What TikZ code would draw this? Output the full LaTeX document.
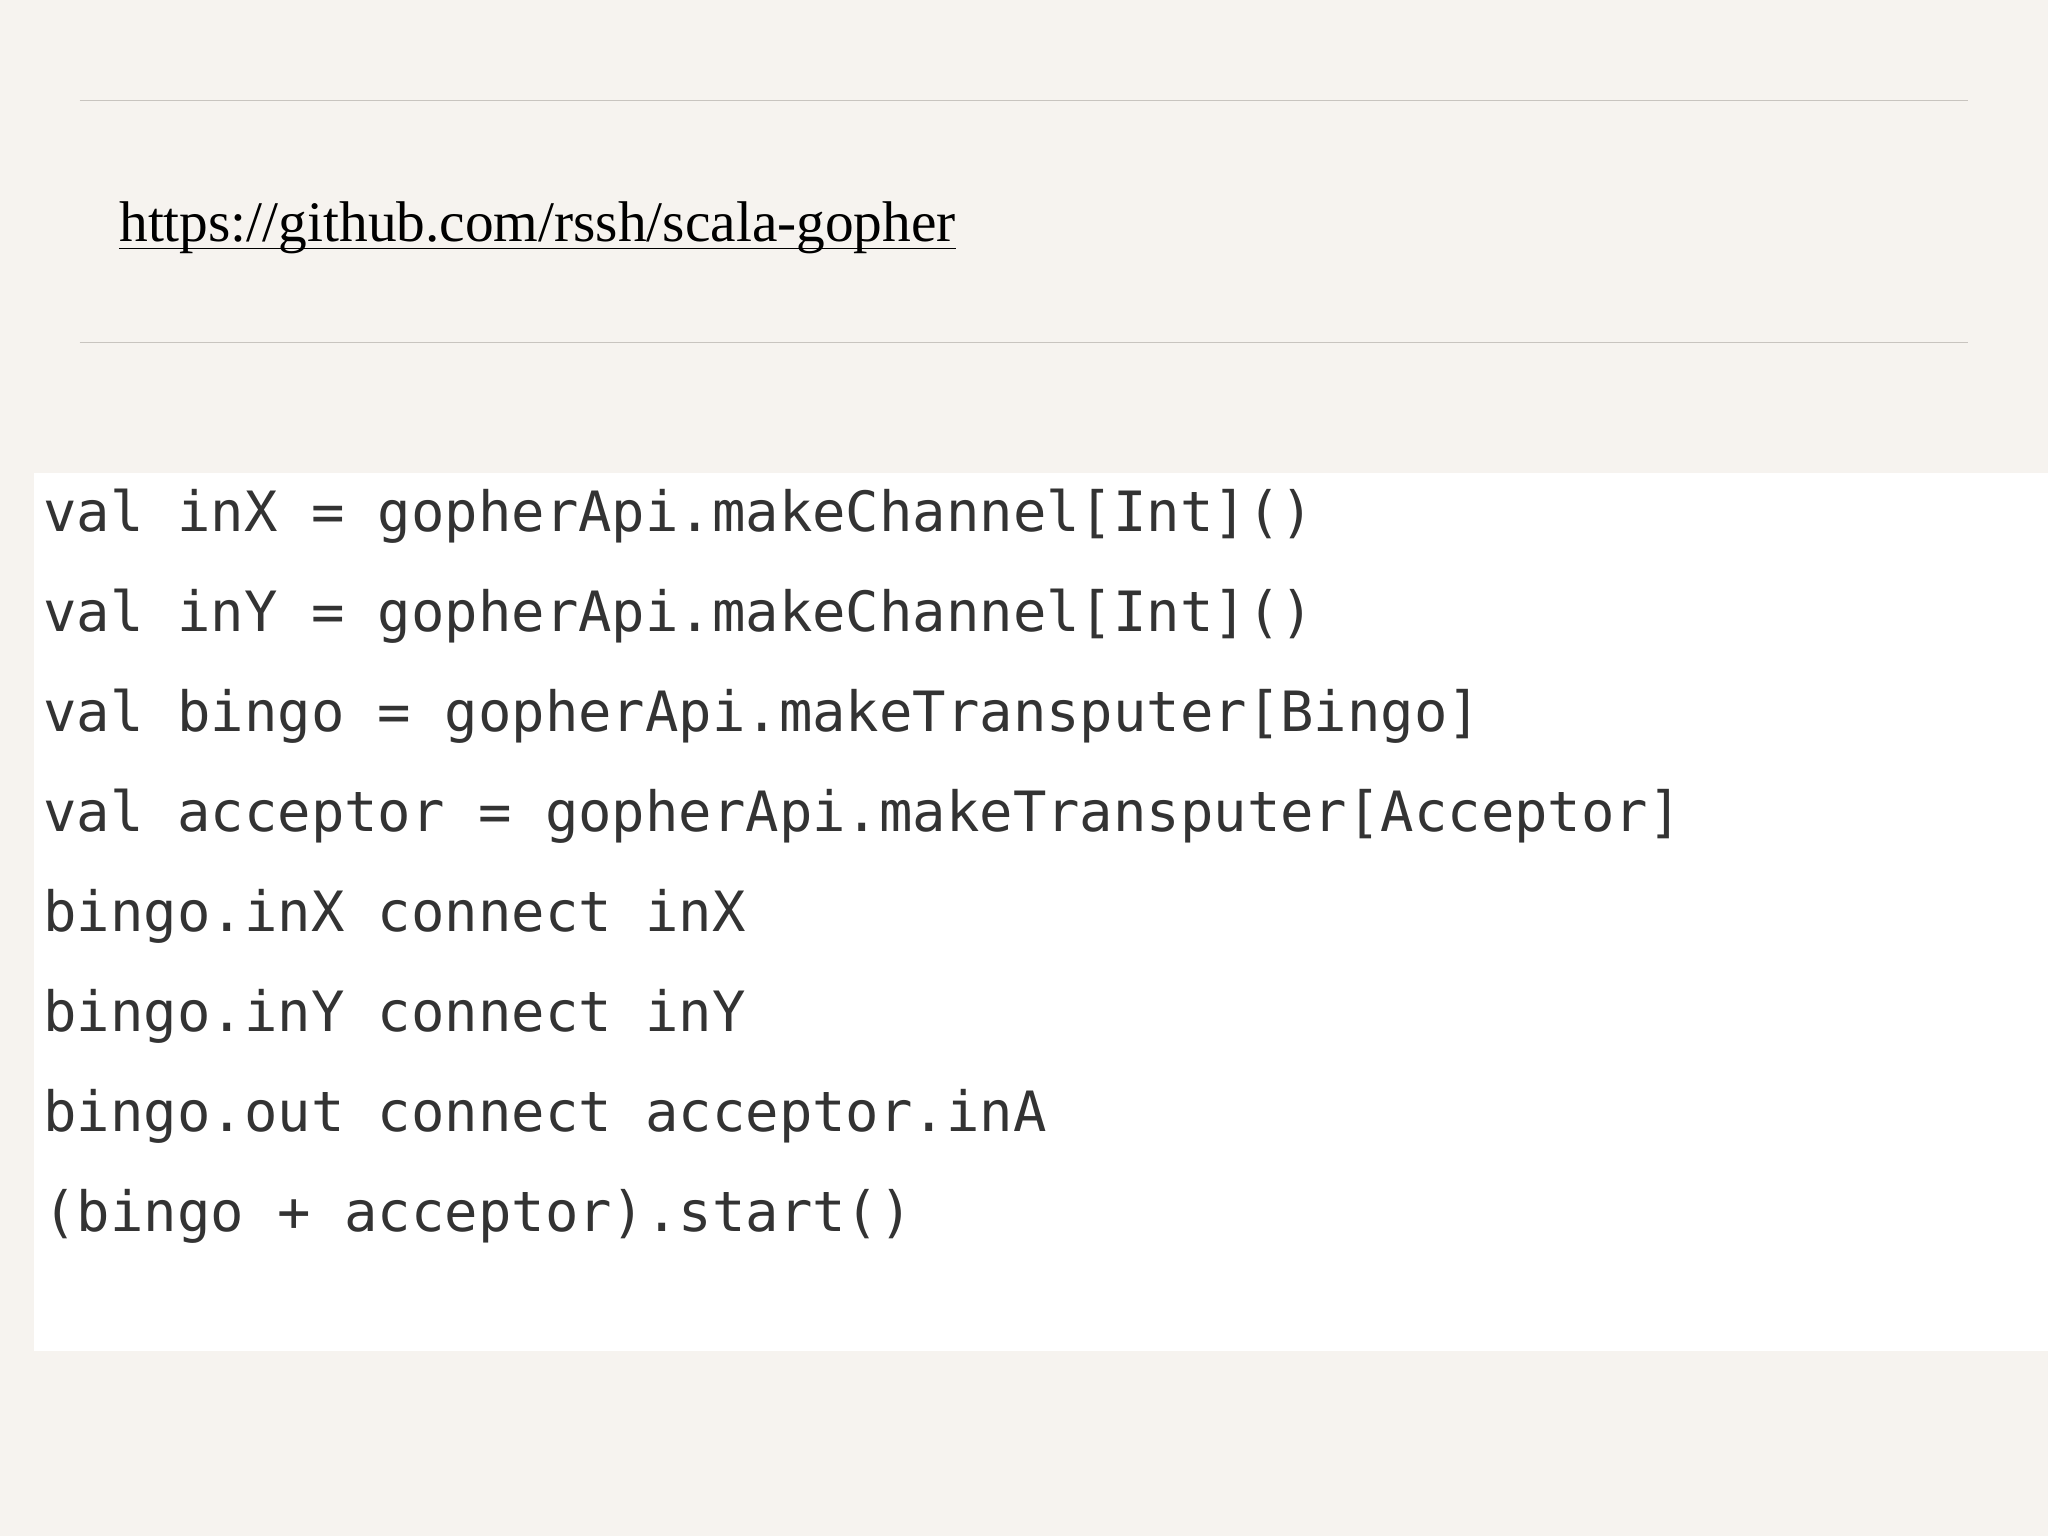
\documentclass[tikz,border=0pt]{standalone}
\usepackage{fontspec}
\setmainfont{Liberation Serif}
\setmonofont{DejaVu Sans Mono}
\definecolor{bg}{HTML}{F6F3EF}
\definecolor{rule}{HTML}{C8C4BF}
\definecolor{code}{HTML}{333333}
\begin{document}
\begin{tikzpicture}[x=0.02cm,y=-0.02cm,
  codeline/.style={anchor=base west,inner sep=0pt,text=code,font=\fontsize{24.2pt}{28pt}\ttfamily}]
\fill[bg] (0,0) rectangle (1568,1176);
\useasboundingbox (0,0) rectangle (1568,1176);
\draw[rule,line width=0.6pt] (61,77) -- (1507,77);
\draw[rule,line width=0.6pt] (61,262) -- (1507,262);
\node[anchor=base west,inner sep=0pt,font=\fontsize{25pt}{30pt}\selectfont] (url) at (91,185) {https://github.com/rssh/scala-gopher};
\draw[line width=0.8pt] ([yshift=-3pt]url.base west) -- ([yshift=-3pt]url.base east);
\fill[white] (26,362) rectangle (1568,1034);
\node[codeline] (l1) at (33,407) {val inX = gopherApi.makeChannel[Int]()};
\node[codeline] (l2) at (33,483.5) {val inY = gopherApi.makeChannel[Int]()};
\node[codeline] (l3) at (33,560) {val bingo = gopherApi.makeTransputer[Bingo]};
\node[codeline] (l4) at (33,636.5) {val acceptor = gopherApi.makeTransputer[Acceptor]};
\node[codeline] (l5) at (33,713) {bingo.inX connect inX};
\node[codeline] (l6) at (33,789.5) {bingo.inY connect inY};
\node[codeline] (l7) at (33,866) {bingo.out connect acceptor.inA};
\node[codeline] (l8) at (33,942.5) {(bingo + acceptor).start()};
\end{tikzpicture}
\end{document}
